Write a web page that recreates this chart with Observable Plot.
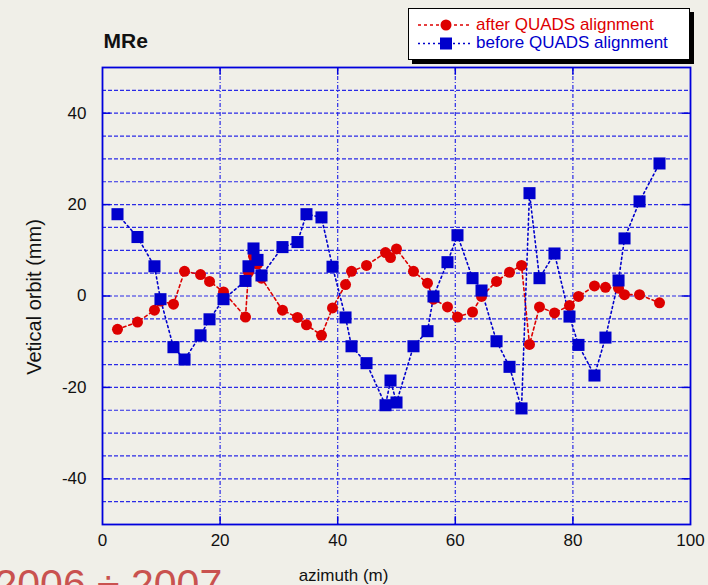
<!DOCTYPE html>
<html>
<head>
<meta charset="utf-8">
<script src="https://cdn.jsdelivr.net/npm/d3@7"></script>
<script src="https://cdn.jsdelivr.net/npm/@observablehq/plot@0.6"></script>
<style>
  html, body { margin: 0; padding: 0; background: #f0efe8; }
  #wrap { position: relative; width: 708px; height: 585px; overflow: hidden; font-family: "Liberation Sans", Arial, Helvetica, sans-serif; }
  #legend { position: absolute; left: 408px; top: 8px; width: 280px; height: 50px; background: #fff; border: 1.5px solid #000; box-shadow: 4px 4px 0 #000; }
  #legend svg { position: absolute; left: 0; top: 0; }
</style>
</head>
<body>
<div id="wrap"></div>
<script>
// azimuth of the BPMs (m)
const azimuth = [2.55, 5.95, 8.84, 9.86, 12.07, 13.95, 16.67, 18.2, 20.58, 24.32, 24.83, 25.68, 26.36, 27.04, 30.61, 33.16, 34.69, 37.24, 39.12, 41.33, 42.35, 44.9, 48.13, 48.98, 50.0, 52.89, 55.27, 56.29, 58.67, 60.37, 62.93, 64.46, 67.01, 69.22, 71.26, 72.62, 74.32, 76.87, 79.42, 80.95, 83.67, 85.54, 87.76, 88.78, 91.33, 94.73];
// vertical orbit after QUADS alignment (mm)
const afterOrbit = [-7.3, -5.7, -3.1, -1.1, -1.8, 5.4, 4.7, 3.2, 0.9, -4.6, 5.2, 8.7, 7.0, 3.9, -3.1, -4.7, -6.3, -8.6, -2.6, 2.5, 5.4, 6.7, 9.5, 8.4, 10.3, 5.4, 2.8, -0.7, -2.4, -4.6, -3.5, -0.1, 3.2, 5.2, 6.7, -10.6, -2.4, -3.7, -2.1, -0.1, 2.2, 1.9, 1.7, 0.3, 0.3, -1.5];
// vertical orbit before QUADS alignment (mm)
const beforeOrbit = [17.9, 12.9, 6.5, -0.7, -11.2, -13.9, -8.6, -5.1, -0.7, 3.3, 6.5, 10.4, 7.9, 4.5, 10.7, 11.8, 17.9, 17.2, 6.4, -4.7, -11.0, -14.7, -23.9, -18.5, -23.3, -11.0, -7.7, -0.1, 7.4, 13.3, 3.9, 1.2, -9.9, -15.5, -24.6, 22.5, 3.9, 9.3, -4.5, -10.7, -17.4, -9.1, 3.4, 12.6, 20.7, 29.0];

const xTicks = [0, 20, 40, 60, 80, 100];
const yTicks = [-40, -20, 0, 20, 40];
const xGrid = [20, 40, 60, 80];
const yGrid = [-45, -40, -35, -30, -25, -20, -15, -10, -5, 0, 5, 10, 15, 20, 25, 30, 35, 40, 45];
const seriesNames = ["after QUADS alignment", "before QUADS alignment"];
const titleText = "MRe";
const yearText = "2006 \u00f7 2007";
const xLabel = "azimuth (m)";
const yLabel = "Vetical orbit (mm)";

const after = azimuth.map((x, i) => ({x, y: afterOrbit[i]}));
const before = azimuth.map((x, i) => ({x, y: beforeOrbit[i]}));

const RED = "#dd0000";
const BLUE = "#0000cc";
const GRID = "#2a2ae6";
const FONT = "'Liberation Sans', Arial, Helvetica, sans-serif";
const plain = d => String(d);

const chart = Plot.plot({
  width: 708,
  height: 585,
  marginLeft: 102,
  marginRight: 18,
  marginTop: 67,
  marginBottom: 61,
  style: {background: "#f0efe8", fontFamily: FONT, fontSize: "17px", color: "#111", overflow: "visible"},
  x: {domain: [0, 100]},
  y: {domain: [-50, 50]},
  marks: [
    Plot.ruleY(yGrid, {stroke: GRID, strokeWidth: 1.2, strokeDasharray: "4,2"}),
    Plot.ruleX(xGrid, {stroke: GRID, strokeWidth: 1.2, strokeDasharray: "4,2,1,2"}),
    Plot.ruleY(yTicks, {x1: 0, x2: 1.4, stroke: "#0000dd", strokeWidth: 1.5}),
    Plot.ruleY(yTicks, {x1: 98.6, x2: 100, stroke: "#0000dd", strokeWidth: 1.5}),
    Plot.ruleX(xGrid, {y1: -50, y2: -48.3, stroke: "#0000dd", strokeWidth: 1.5}),
    Plot.ruleX(xGrid, {y1: 48.3, y2: 50, stroke: "#0000dd", strokeWidth: 1.5}),
    Plot.frame({stroke: "#0000dd", strokeWidth: 1.8}),
    Plot.axisX({ticks: xTicks, tickSize: 0, tickPadding: 9, fontSize: 17, label: null, tickFormat: plain}),
    Plot.axisY({ticks: yTicks, tickSize: 0, tickPadding: 16, fontSize: 17, label: null, tickFormat: plain}),
    Plot.line(after, {x: "x", y: "y", stroke: RED, strokeWidth: 1.6, strokeDasharray: "3,3"}),
    Plot.line(before, {x: "x", y: "y", stroke: BLUE, strokeWidth: 1.6, strokeDasharray: "2,3"}),
    Plot.dot(after, {x: "x", y: "y", r: 5.5, fill: RED, stroke: "none"}),
    Plot.dot(before, {x: "x", y: "y", symbol: "square", r: 6.8, fill: BLUE, stroke: "none"}),
    Plot.text([titleText], {frameAnchor: "top-left", dx: 1, dy: -20, textAnchor: "start", lineAnchor: "bottom", fontSize: 21, fontWeight: "bold", fill: "#111"}),
    Plot.text([xLabel], {frameAnchor: "bottom", dx: -53, dy: 56, textAnchor: "middle", lineAnchor: "bottom", fontSize: 17, fill: "#111"}),
    Plot.text([yLabel], {frameAnchor: "left", dx: -62, dy: 1, rotate: -90, textAnchor: "middle", lineAnchor: "bottom", fontSize: 20, fill: "#111"}),
    Plot.text([yearText], {frameAnchor: "bottom-left", dx: -108, dy: 73, textAnchor: "start", lineAnchor: "bottom", fontSize: 41, fill: "#c9524f"})
  ]
});

const wrap = document.getElementById("wrap");
wrap.appendChild(chart);

// legend
const legend = document.createElement("div");
legend.id = "legend";
wrap.appendChild(legend);
const lsvg = d3.select(legend).append("svg").attr("width", 282).attr("height", 52);
const rows = [
  {name: seriesNames[0], color: RED, dash: "3,3", shape: "circle", y: 16},
  {name: seriesNames[1], color: BLUE, dash: "2,3", shape: "square", y: 34.5}
];
for (const r of rows) {
  lsvg.append("line").attr("x1", 9).attr("x2", 62).attr("y1", r.y).attr("y2", r.y)
    .attr("stroke", r.color).attr("stroke-width", 1.5).attr("stroke-dasharray", r.dash);
  if (r.shape === "circle") {
    lsvg.append("circle").attr("cx", 37).attr("cy", r.y).attr("r", 5.5).attr("fill", r.color);
  } else {
    lsvg.append("rect").attr("x", 31).attr("y", r.y - 6).attr("width", 12).attr("height", 12).attr("fill", r.color);
  }
  lsvg.append("text").attr("x", 67).attr("y", r.y + 4.5).attr("fill", r.color)
    .attr("font-family", FONT).attr("font-size", 17).text(r.name);
}
</script>
</body>
</html>
